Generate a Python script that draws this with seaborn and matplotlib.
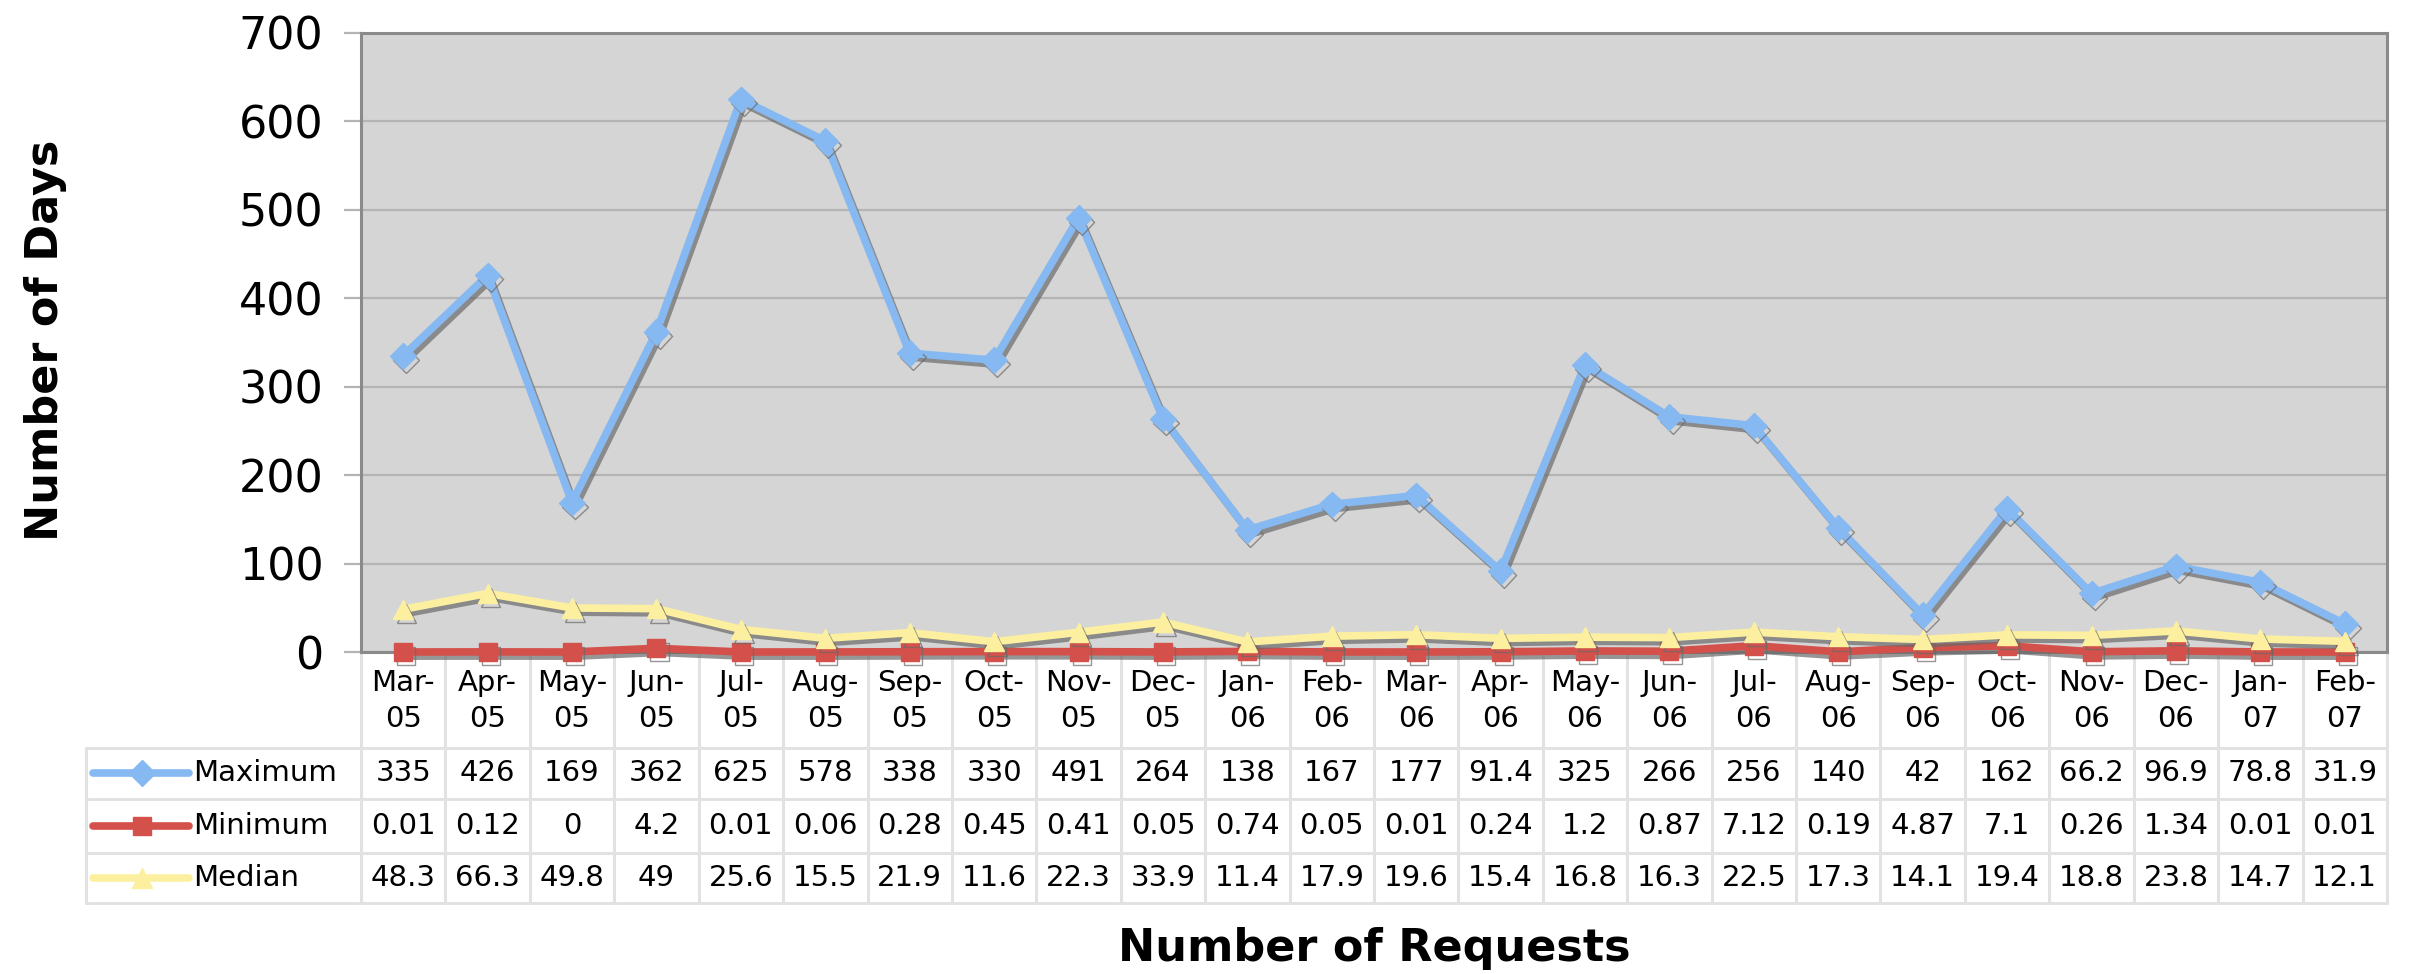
import numpy as np
import pandas as pd
import matplotlib
matplotlib.use("Agg")
import matplotlib.pyplot as plt
import matplotlib.patheffects as pe
from matplotlib.lines import Line2D
from matplotlib import transforms
import seaborn as sns

# ---------------- data ----------------
months = ["Mar-05", "Apr-05", "May-05", "Jun-05", "Jul-05", "Aug-05", "Sep-05", "Oct-05",
          "Nov-05", "Dec-05", "Jan-06", "Feb-06", "Mar-06", "Apr-06", "May-06", "Jun-06",
          "Jul-06", "Aug-06", "Sep-06", "Oct-06", "Nov-06", "Dec-06", "Jan-07", "Feb-07"]
maximum = [335, 426, 169, 362, 625, 578, 338, 330, 491, 264, 138, 167, 177, 91.4,
           325, 266, 256, 140, 42, 162, 66.2, 96.9, 78.8, 31.9]
minimum = [0.01, 0.12, 0, 4.2, 0.01, 0.06, 0.28, 0.45, 0.41, 0.05, 0.74, 0.05, 0.01, 0.24,
           1.2, 0.87, 7.12, 0.19, 4.87, 7.1, 0.26, 1.34, 0.01, 0.01]
median = [48.3, 66.3, 49.8, 49, 25.6, 15.5, 21.9, 11.6, 22.3, 33.9, 11.4, 17.9, 19.6, 15.4,
          16.8, 16.3, 22.5, 17.3, 14.1, 19.4, 18.8, 23.8, 14.7, 12.1]
series_names = ["Maximum", "Minimum", "Median"]
y_ticks = [0, 100, 200, 300, 400, 500, 600, 700]
y_title = "Number of Days"
x_title = "Number of Requests"

# ---------------- styles ----------------
colors = {"Maximum": "#86b9f2", "Minimum": "#d4504a", "Median": "#fcf0a0"}
markers = {"Maximum": "D", "Minimum": "s", "Median": "^"}
msizes = {"Maximum": 13, "Minimum": 13, "Median": 14}

sns.set_style("white")
plt.rcParams["font.family"] = ["DejaVu Sans"]
plt.rcParams["text.color"] = "black"
plt.rcParams["axes.labelcolor"] = "black"
plt.rcParams["ytick.color"] = "black"

W, H = 2418, 974
fig = plt.figure(figsize=(W / 100, H / 100), dpi=100)


def fx(px):
    return px / W


def fy(py):
    return 1 - py / H


PL, PR, PT, PB = 361, 2387, 33, 652
ax = fig.add_axes([fx(PL), fy(PB), fx(PR) - fx(PL), fy(PT) - fy(PB)])
ax.set_facecolor("#d5d5d5")

df = pd.DataFrame({"idx": np.arange(len(months)), "Maximum": maximum,
                   "Minimum": minimum, "Median": median})

shadow = [pe.SimpleLineShadow(offset=(2.2, -3), shadow_color="#6a6a6a", alpha=0.7),
          pe.Normal()]
for z, name in enumerate(series_names):
    sns.lineplot(data=df, x="idx", y=name, ax=ax, color=colors[name], lw=5.5,
                 marker=markers[name], markersize=msizes[name],
                 markeredgecolor=colors[name], markeredgewidth=1,
                 path_effects=shadow, clip_on=False, zorder=4 + z)

ax.set_xlim(-0.5, len(months) - 0.5)
ax.set_ylim(y_ticks[0], y_ticks[-1])
ax.set_yticks(y_ticks)
ax.set_xticks([])
ax.set_xlabel("")
ax.set_ylabel("")
ax.yaxis.grid(True, color="#b4b4b4", lw=1.6)
ax.set_axisbelow(True)
for sp in ax.spines.values():
    sp.set_color("#8a8a8a")
    sp.set_linewidth(2.2)
ax.tick_params(axis="y", length=12, width=1.6, color="#b4b4b4", pad=15,
               labelsize=32, labelcolor="black", left=True)

# axis titles
fig.text(fx(46), fy(340), y_title, rotation=90, ha="center", va="center",
         fontsize=32, fontweight="bold", color="black")
fig.text(fx((PL + PR) / 2), fy(948), x_title, ha="center", va="center",
         fontsize=32, fontweight="bold", color="black")

# ---------------- data table ----------------
grid_c = "#e2e2e2"
blend = transforms.blended_transform_factory(ax.transData, fig.transFigure)
TL = 86
row_lines = [748, 799, 853, 903]
row_centers = [773, 826, 878]

for b in np.arange(-0.5, len(months), 1.0):
    ax.add_line(Line2D([b, b], [fy(PB), fy(903)], transform=blend, color=grid_c,
                       lw=2.2, clip_on=False, zorder=1))
for yl in row_lines:
    fig.add_artist(Line2D([fx(TL), fx(PR)], [fy(yl), fy(yl)], transform=fig.transFigure,
                          color=grid_c, lw=2.2, zorder=1))
fig.add_artist(Line2D([fx(TL), fx(TL)], [fy(748), fy(903)], transform=fig.transFigure,
                      color=grid_c, lw=2.2, zorder=1))

for i, m in enumerate(months):
    ax.text(i, fy(701), m.replace("-", "-\n"), transform=blend, ha="center", va="center",
            fontsize=21, linespacing=1.35, clip_on=False, color="black")

values = {"Maximum": maximum, "Minimum": minimum, "Median": median}
for name, yc in zip(series_names, row_centers):
    for i, v in enumerate(values[name]):
        ax.text(i, fy(yc), f"{v:g}", transform=blend, ha="center", va="center",
                fontsize=21, clip_on=False, color="black")
    fig.add_artist(Line2D([fx(93), fx(189)], [fy(yc), fy(yc)], transform=fig.transFigure,
                          color=colors[name], lw=5.5))
    fig.add_artist(Line2D([fx(142)], [fy(yc)], transform=fig.transFigure,
                          color=colors[name], marker=markers[name],
                          markersize=msizes[name], markeredgecolor=colors[name]))
    fig.text(fx(193), fy(yc), name, ha="left", va="center", fontsize=21, color="black")

fig.savefig("out.png", dpi=100, facecolor="white")
